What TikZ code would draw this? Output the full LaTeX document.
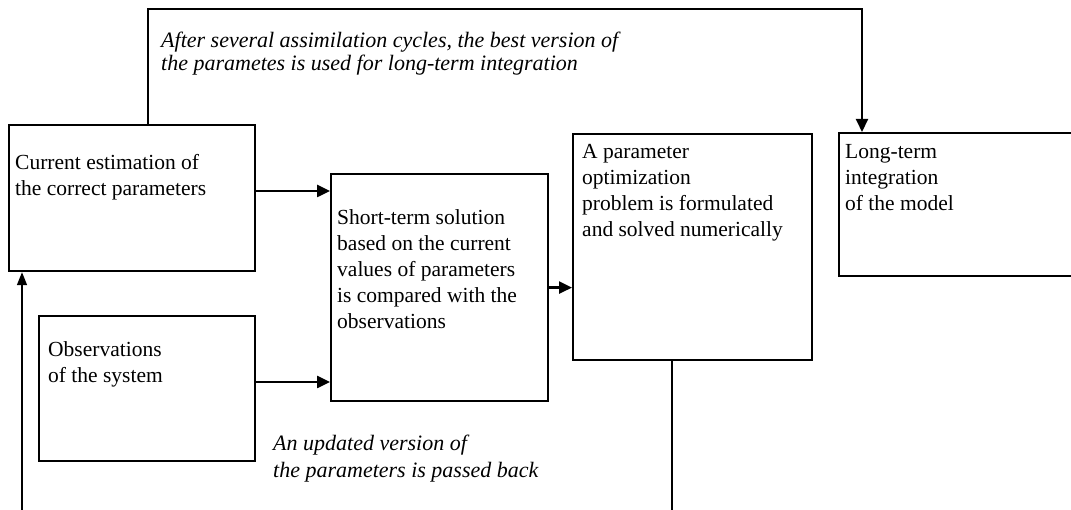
\documentclass[tikz,border=0pt]{standalone}
\usepackage{fontspec}
\setmainfont{Liberation Serif}
\usetikzlibrary{arrows.meta,calc}
\tikzset{
  box/.style={draw, line width=2.2pt, inner sep=0pt, anchor=north west},
  txt/.style={inner sep=0pt, anchor=north west, align=left, font=\fontsize{21.5}{26}\selectfont},
  itxt/.style={inner sep=0pt, anchor=north west, align=left, font=\fontsize{22}{27}\selectfont\itshape},
  tip/.style={-{Triangle[length=13pt,width=12pt]}},
  arr/.style={line width=2.5pt, tip},
  conn/.style={line width=2pt, tip},
  fb/.style={line width=1.5pt, -{Triangle[length=13pt,width=10pt]}}
}
\begin{document}
\begin{tikzpicture}[x=1pt,y=-1pt]
\path[use as bounding box] (0,0) rectangle (1071,510);
\clip (0,0) rectangle (1071,510);
% boxes
\node[box, minimum width=246pt, minimum height=146pt] (cur) at (8,124) {};
\node[box, minimum width=217pt, minimum height=227pt] (short) at (330,173) {};
\node[box, minimum width=239pt, minimum height=226pt] (opt) at (572,133) {};
\node[box, minimum width=245pt, minimum height=143pt] (long) at (838,132) {};
\node[box, minimum width=216pt, minimum height=145pt] (obs) at (38,315) {};
% texts
\node[txt] (curT) at (15,154) {Current estimation of\\the correct parameters};
\node[txt] (shortT) at (337,209) {Short-term solution\\based on the current\\values of parameters\\is compared with the\\observations};
\node[txt] (optT) at (582,144) {A parameter\\optimization\\problem is formulated\\and solved numerically};
\node[txt] (longT) at (845,144) {Long-term\\integration\\of the model};
\node[txt] (obsT) at (48,341) {Observations\\of the system};
\node[itxt, font=\fontsize{22}{23}\selectfont\itshape] (topT) at (161,32) {After several assimilation cycles, the best version of\\the parametes is used for long-term integration};
\node[itxt] (botT) at (273,435) {An updated version of\\the parameters is passed back};
% helper coordinates
\coordinate (tl) at (148,9);
\coordinate (tr) at (862,9);
\coordinate (a1) at (0,191);
\coordinate (a2) at (0,382);
\coordinate (fbR) at (672,530);
\coordinate (fbL) at (22,530);
% connectors
\draw[conn] (cur.north -| tl) -- (tl) -- (tr) -- (tr |- long.north);
\draw[arr] (cur.east |- a1) -- (short.west |- a1);
\draw[arr] (obs.east |- a2) -- (short.west |- a2);
\draw[arr] (short.east) -- (opt.west |- short.east);
\draw[fb] (opt.south -| fbR) -- (fbR) -- (fbL) -- (fbL |- cur.south);
\end{tikzpicture}
\end{document}
